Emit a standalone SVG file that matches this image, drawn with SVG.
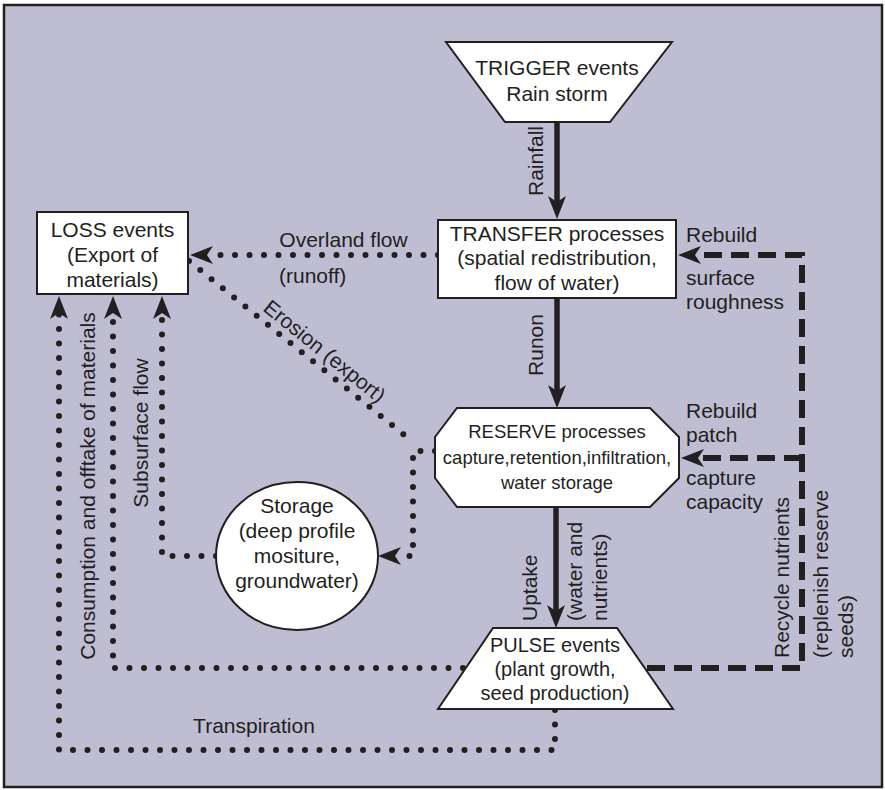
<svg xmlns="http://www.w3.org/2000/svg" width="885" height="790" viewBox="0 0 885 790">
<defs>
<marker id="ah" viewBox="0 0 23 18" markerWidth="23" markerHeight="18" refX="6" refY="9" orient="auto" markerUnits="userSpaceOnUse"><path d="M23,9 L0,0 L6,9 L0,18 Z" fill="#231f20"/></marker>
<style>
text{font-family:"Liberation Sans",Arial,sans-serif;font-size:21px;fill:#231f20}
.n{fill:#fff;stroke:#231f20;stroke-width:2}
.c{text-anchor:middle}
.solid{fill:none;stroke:#231f20;stroke-width:5.5}
.dot{fill:none;stroke:#231f20;stroke-width:6;stroke-linecap:round;stroke-dasharray:0 14.5}
.dash{fill:none;stroke:#231f20;stroke-width:6;stroke-dasharray:18 9}
</style>
</defs>
<rect x="4" y="5" width="878" height="782" fill="#bebdd2" stroke="#231f20" stroke-width="2.5"/>
<g id="connectors">
<path class="solid" d="M557,122 L557,202" marker-end="url(#ah)"/>
<path class="solid" d="M557,298 L557,391" marker-end="url(#ah)"/>
<path class="solid" d="M556,507 L556,611" marker-end="url(#ah)"/>
<path class="dot" d="M438,255 L207,255" marker-end="url(#ah)"/>
<path class="dot" d="M189,261 L413,442"/>
<path class="dot" d="M435,451 L413,451 L413,556 L395,556" marker-end="url(#ah)"/>
<path class="dot" d="M216,556 L162,556 L162,313" marker-end="url(#ah)"/>
<path class="dot" d="M463,668 L113,668 L113,313" marker-end="url(#ah)"/>
<path class="dot" d="M555,710 L555,750 L59,750 L59,313" marker-end="url(#ah)"/>
<path class="dash" d="M647,668 L802,668 L802,255 L695,255" marker-end="url(#ah)"/>
<path class="dash" d="M802,458 L698,458" marker-end="url(#ah)"/>
<text transform="translate(543,161) rotate(-90)" class="c">Rainfall</text>
<text transform="translate(543,345) rotate(-90)" class="c">Runon</text>
<text transform="translate(537,621) rotate(-90)">Uptake</text>
<text transform="translate(582,621) rotate(-90)">(water and</text>
<text transform="translate(607,621) rotate(-90)">nutrients)</text>
<text transform="translate(95,486) rotate(-90)" class="c">Consumption and offtake of materials</text>
<text transform="translate(148,433) rotate(-90)" class="c">Subsurface flow</text>
<text transform="translate(789,658) rotate(-90)">Recycle nutrients</text>
<text transform="translate(828,658) rotate(-90)">(replenish reserve</text>
<text transform="translate(853,658) rotate(-90)">seeds)</text>
<text class="c" x="254" y="733">Transpiration</text>
<text transform="translate(262,310) rotate(38.9)">Erosion (export)</text>
<text class="c" x="343.5" y="247">Overland flow</text>
<text x="279" y="283">(runoff)</text>
<text x="686" y="242">Rebuild</text>
<text x="686" y="285">surface</text>
<text x="686" y="309">roughness</text>
<text x="686" y="418">Rebuild</text>
<text x="686" y="442">patch</text>
<text x="686" y="485">capture</text>
<text x="686" y="509">capacity</text>
</g>
<g id="trigger"><polygon class="n" points="446,42 672,42 610,122 505,122"/><text class="c" x="557" y="75">TRIGGER events</text><text class="c" x="557" y="101">Rain storm</text></g>
<g id="transfer"><rect class="n" x="438" y="220" width="238" height="78"/><text class="c" x="557" y="241">TRANSFER processes</text><text class="c" x="557" y="265">(spatial redistribution,</text><text class="c" x="557" y="290">flow of water)</text></g>
<g id="loss"><rect class="n" x="37" y="212" width="151" height="82"/><text class="c" x="112.5" y="237">LOSS events</text><text class="c" x="112.5" y="262">(Export of</text><text class="c" x="112.5" y="287">materials)</text></g>
<g id="reserve"><polygon class="n" points="457,408 650,408 679,437 679,478 650,507 457,507 435,478 435,437"/><text class="c" x="557" y="438" style="font-size:18.5px">RESERVE processes</text><text class="c" x="557" y="464" style="font-size:18.5px">capture,retention,infiltration,</text><text class="c" x="557" y="489" style="font-size:18.5px">water storage</text></g>
<g id="storage"><ellipse class="n" cx="297" cy="556" rx="81" ry="74"/><text class="c" x="297" y="513">Storage</text><text class="c" x="297" y="538">(deep profile</text><text class="c" x="297" y="563">mositure,</text><text class="c" x="297" y="588">groundwater)</text></g>
<g id="pulse"><polygon class="n" points="493,628 617,628 673,709 438,709"/><text class="c" x="555" y="652" style="font-size:20px">PULSE events</text><text class="c" x="555" y="676" style="font-size:20px">(plant growth,</text><text class="c" x="555" y="700" style="font-size:20px">seed production)</text></g>
</svg>
